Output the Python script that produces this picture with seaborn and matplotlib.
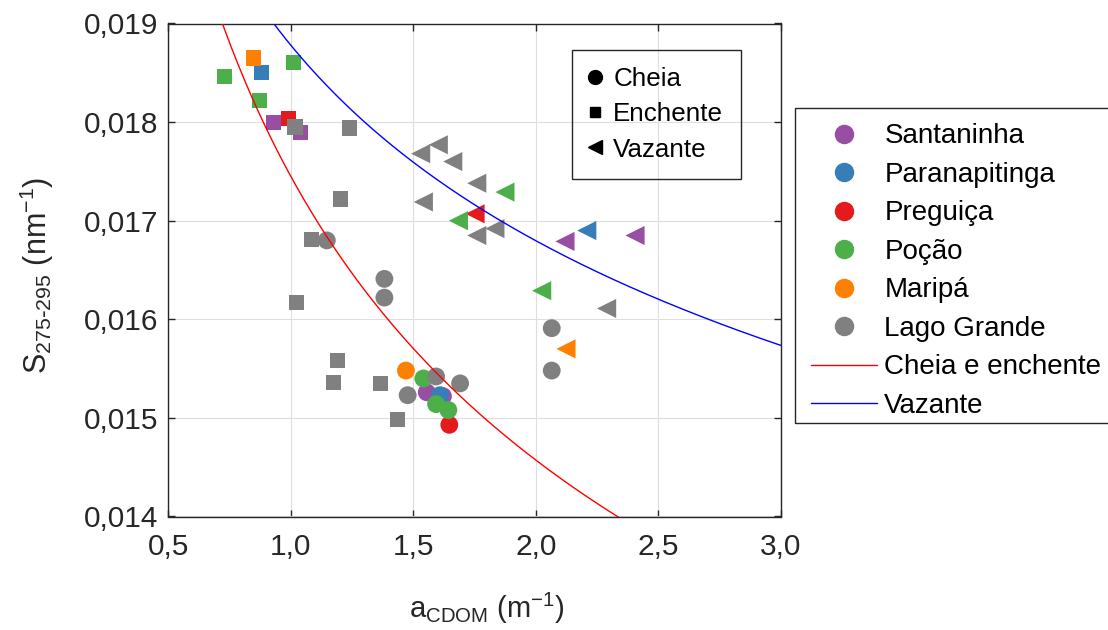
import numpy as np
import pandas as pd
import matplotlib
matplotlib.use("Agg")
import matplotlib.pyplot as plt
from matplotlib.lines import Line2D
from matplotlib.patches import Rectangle
import seaborn as sns

# ---------------------------------------------------------------- data
sites = ["Santaninha", "Paranapitinga", "Preguiça", "Poção", "Maripá", "Lago Grande"]
site_colors = ["#984ea3", "#377eb8", "#e41a1c", "#4daf4a", "#ff7f00", "#808080"]
periods = ["Cheia", "Enchente", "Vazante"]

# Cheia (high water)
cheia_site = ["Santaninha", "Santaninha", "Paranapitinga", "Preguiça",
              "Poção", "Poção", "Poção", "Maripá",
              "Lago Grande", "Lago Grande", "Lago Grande", "Lago Grande",
              "Lago Grande", "Lago Grande", "Lago Grande", "Lago Grande"]
cheia_acdom = [1.555, 1.621, 1.609, 1.647,
               1.541, 1.593, 1.643, 1.470,
               1.147, 1.382, 1.382, 1.477,
               1.593, 1.691, 2.065, 2.065]
cheia_s = [0.01526, 0.01522, 0.01523, 0.01493,
           0.01540, 0.01514, 0.01508, 0.01548,
           0.01680, 0.01641, 0.01622, 0.01523,
           0.01542, 0.01535, 0.01591, 0.01548]

# Enchente (rising water)
enchente_site = ["Santaninha", "Santaninha", "Paranapitinga", "Preguiça",
                 "Poção", "Poção", "Poção", "Maripá",
                 "Lago Grande", "Lago Grande", "Lago Grande", "Lago Grande",
                 "Lago Grande", "Lago Grande", "Lago Grande", "Lago Grande",
                 "Lago Grande"]
enchente_acdom = [0.929, 1.040, 0.881, 0.990,
                  0.731, 1.010, 0.874, 0.847,
                  1.017, 1.238, 1.204, 1.085,
                  1.024, 1.190, 1.176, 1.367,
                  1.436]
enchente_s = [0.01800, 0.01789, 0.01850, 0.01804,
              0.01846, 0.01860, 0.01822, 0.01865,
              0.01795, 0.01794, 0.01722, 0.01681,
              0.01617, 0.01558, 0.01536, 0.01535,
              0.01498]

# Vazante (falling water)
vazante_site = ["Santaninha", "Santaninha", "Paranapitinga", "Preguiça",
                "Poção", "Poção", "Poção", "Maripá",
                "Lago Grande", "Lago Grande", "Lago Grande", "Lago Grande",
                "Lago Grande", "Lago Grande", "Lago Grande", "Lago Grande"]
vazante_acdom = [2.119, 2.405, 2.208, 1.752,
                 1.874, 1.684, 2.024, 2.123,
                 1.530, 1.602, 1.661, 1.759,
                 1.541, 1.759, 1.833, 2.289]
vazante_s = [0.01679, 0.01685, 0.01690, 0.01707,
             0.01729, 0.01700, 0.01629, 0.01570,
             0.01768, 0.01777, 0.01760, 0.01738,
             0.01719, 0.01685, 0.01692, 0.01611]

# Power-law fits  S = a * aCDOM^b
fit_labels = ["Cheia e enchente", "Vazante"]
fit_a = [0.01745, 0.01878]
fit_b = [-0.260, -0.161]
fit_colors = ["#ff0000", "#0000ff"]

x_ticks = [0.5, 1.0, 1.5, 2.0, 2.5, 3.0]
x_ticklabels = ["0,5", "1,0", "1,5", "2,0", "2,5", "3,0"]
y_ticks = [0.014, 0.015, 0.016, 0.017, 0.018, 0.019]
y_ticklabels = ["0,014", "0,015", "0,016", "0,017", "0,018", "0,019"]

# ---------------------------------------------------------------- frame
frames = []
for per, st, xa, ys in [("Cheia", cheia_site, cheia_acdom, cheia_s),
                        ("Enchente", enchente_site, enchente_acdom, enchente_s),
                        ("Vazante", vazante_site, vazante_acdom, vazante_s)]:
    frames.append(pd.DataFrame({"acdom": xa, "s275": ys, "site": st, "periodo": per}))
df = pd.concat(frames, ignore_index=True)
# draw sites in legend order so later sites sit on top
df["order"] = df["site"].map({s: i for i, s in enumerate(sites)})
df = df.sort_values(["order"], kind="stable").reset_index(drop=True)

sns.set_theme(style="whitegrid")
plt.rcParams["font.family"] = ["Liberation Sans", "DejaVu Sans"]
plt.rcParams["mathtext.default"] = "regular"
ink = "#262626"

W, H = 1108, 630
fig = plt.figure(figsize=(W / 100, H / 100), dpi=100)
fig.patch.set_facecolor("white")

def fx(px):
    return px / W

def fy(py):
    return 1 - py / H

ax_l, ax_r, ax_t, ax_b = 168.3, 780.8, 23.5, 516.5
ax = fig.add_axes([fx(ax_l), fy(ax_b), fx(ax_r - ax_l), (ax_b - ax_t) / H])
ax.set_facecolor("white")

palette = dict(zip(sites, site_colors))
markers = {"Cheia": "o", "Enchente": "s", "Vazante": "<"}
sizes = {"Cheia": 165, "Enchente": 118, "Vazante": 190}

sns.scatterplot(data=df, x="acdom", y="s275", hue="site", style="periodo",
                size="periodo", palette=palette, markers=markers, sizes=sizes,
                hue_order=sites, style_order=periods, size_order=periods,
                linewidth=0, legend=False, ax=ax, zorder=3)

xx = np.linspace(0.5, 3.0, 400)
for a, b, c in zip(fit_a, fit_b, fit_colors):
    sns.lineplot(x=xx, y=a * xx ** b, color=c, lw=1.0, ax=ax, zorder=4,
                 sort=False, estimator=None)

ax.set_xlim(0.5, 3.0)
ax.set_ylim(0.014, 0.019)
ax.set_xticks(x_ticks)
ax.set_xticklabels(x_ticklabels)
ax.set_yticks(y_ticks)
ax.set_yticklabels(y_ticklabels)
ax.grid(True, color="#dedede", lw=0.8)
ax.set_axisbelow(True)
for sp in ax.spines.values():
    sp.set_visible(True)
    sp.set_color(ink)
    sp.set_linewidth(1.0)
ax.tick_params(axis="both", direction="in", length=5, width=1.0, color=ink,
               labelcolor=ink, labelsize=21.5, top=True, right=True,
               bottom=True, left=True)
ax.tick_params(axis="x", pad=12)
ax.tick_params(axis="y", pad=7)

ax.set_xlabel(r"a$_{CDOM}$ (m$^{-1}$)", fontsize=21, color=ink, labelpad=21)
ax.xaxis.label.set_x(0.521)
ax.set_ylabel(r"S$_{275\text{-}295}$ (nm$^{-1}$)", fontsize=22, color=ink, labelpad=20)
ax.yaxis.label.set_y(0.49)

# ---------------------------------------------------------------- legends
# period (marker shape) legend inside the axes
shape_handles = [
    Line2D([], [], ls="", marker="o", color="black", markersize=10),
    Line2D([], [], ls="", marker="s", color="black", markersize=7.7),
    Line2D([], [], ls="", marker="<", color="black", markersize=10),
]
leg1 = fig.legend(shape_handles, periods, loc="upper left",
                  bbox_to_anchor=(fx(582), fy(66.7)), bbox_transform=fig.transFigure,
                  frameon=False, borderpad=0, borderaxespad=0, fontsize=18.7,
                  handlelength=1.0, handletextpad=0.2, labelspacing=0.44,
                  labelcolor="black")
fig.add_artist(Rectangle((fx(571.7), fy(179.3)), fx(740.7 - 571.7), (179.3 - 50) / H,
                         transform=fig.transFigure, fill=False, ec=ink, lw=1.0))

# site colour + fitted curve legend outside the axes
site_handles = [Line2D([], [], ls="", marker="o", color=c, markersize=13)
                for c in site_colors]
fit_handles = [Line2D([], [], color=c, lw=1.0) for c in fit_colors]
leg2 = fig.legend(site_handles + fit_handles, sites + fit_labels, loc="upper left",
                  bbox_to_anchor=(fx(810.7), fy(123.3)), bbox_transform=fig.transFigure,
                  frameon=False, borderpad=0, borderaxespad=0, fontsize=20,
                  handlelength=2.4, handletextpad=0.25, labelspacing=0.45,
                  labelcolor="black")
fig.add_artist(Rectangle((fx(795), fy(422.7)), fx(1130 - 795), (422.7 - 108.3) / H,
                         transform=fig.transFigure, fill=False, ec=ink, lw=1.0))

fig.savefig("out.png", dpi=100, facecolor="white")
